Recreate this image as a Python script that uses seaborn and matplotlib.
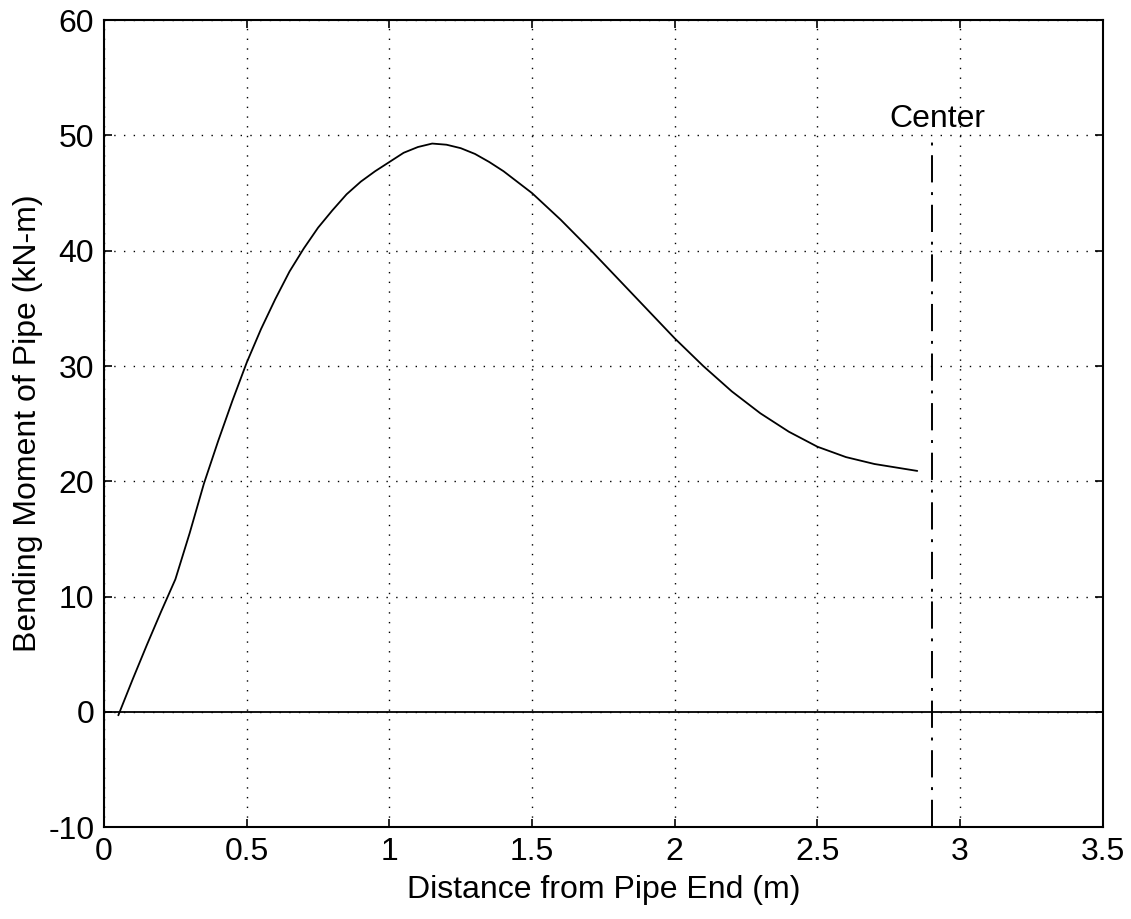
import matplotlib
matplotlib.use("Agg")
import matplotlib.pyplot as plt
import seaborn as sns
import pandas as pd

distance = [0.05, 0.10, 0.15, 0.20, 0.25, 0.30, 0.35, 0.40, 0.45, 0.50, 0.55, 0.60, 0.65, 0.70,
            0.75, 0.80, 0.85, 0.90, 0.95, 1.00, 1.05, 1.10, 1.15, 1.20, 1.25, 1.30, 1.35,
            1.40, 1.50, 1.60, 1.70, 1.80, 1.90, 2.00, 2.10, 2.20, 2.30, 2.40, 2.50, 2.60,
            2.70, 2.80, 2.85]
moment = [-0.3, 2.8, 5.8, 8.7, 11.5, 15.5, 19.8, 23.5, 27.0, 30.3, 33.2, 35.8, 38.2, 40.2,
          42.0, 43.5, 44.9, 46.0, 46.9, 47.7, 48.5, 49.0, 49.3, 49.2, 48.9, 48.4, 47.7,
          46.9, 45.0, 42.7, 40.2, 37.6, 35.0, 32.4, 30.0, 27.8, 25.9, 24.3, 23.0, 22.1,
          21.5, 21.1, 20.9]
center_x = 2.9
center_y = [-10, 49.5]
zero_x = [0, 3.5]
zero_y = [0, 0]

sns.set_theme(style="white")
plt.rcParams['font.family'] = ['Liberation Sans', 'DejaVu Sans']
plt.rcParams['axes.unicode_minus'] = False

FS = 23

fig, ax = plt.subplots(figsize=(11.31, 9.19), dpi=100)
fig.subplots_adjust(left=0.092, right=0.975, top=0.978, bottom=0.10)

df = pd.DataFrame({"x": distance, "y": moment})
sns.lineplot(data=df, x="x", y="y", ax=ax, color="black", linewidth=1.3, sort=False)
sns.lineplot(x=zero_x, y=zero_y, ax=ax, color="black", linewidth=1.3)
ax.plot([center_x, center_x], center_y, color="black", linewidth=1.4,
        linestyle=(0, (14, 5, 1.5, 5)))
ax.text(2.92, 50.7, "Center", ha="center", va="baseline", fontsize=FS, color="black")

ax.set_xlim(0, 3.5)
ax.set_ylim(-10, 60)
ax.set_xticks([0, 0.5, 1, 1.5, 2, 2.5, 3, 3.5])
ax.set_xticklabels(["0", "0.5", "1", "1.5", "2", "2.5", "3", "3.5"])
ax.set_yticks(range(-10, 61, 10))
ax.grid(True, color="black", linestyle=(0, (1, 6)), linewidth=1.0)
ax.tick_params(direction="in", length=6, width=1.2, labelsize=FS, colors="black",
               top=True, right=True, left=True, bottom=True)
ax.tick_params(axis="x", pad=7)
ax.tick_params(axis="y", pad=7)
for s in ax.spines.values():
    s.set_color("black")
    s.set_linewidth(1.5)
ax.set_xlabel("Distance from Pipe End (m)", fontsize=FS, color="black", labelpad=6)
ax.set_ylabel("Bending Moment of Pipe (kN-m)", fontsize=FS, color="black", labelpad=4)

fig.savefig("out.png", dpi=100)
